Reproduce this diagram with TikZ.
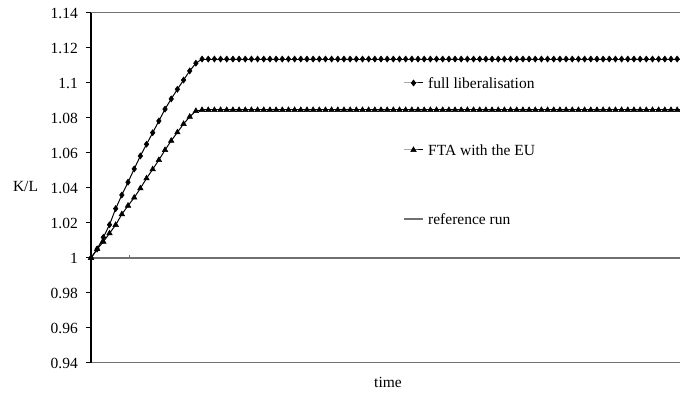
\documentclass[tikz,border=0pt]{standalone}
\usepackage{fontspec}
\setmainfont{Liberation Serif}
\usetikzlibrary{plotmarks}
\definecolor{refgray}{RGB}{112,112,112}
\tikzset{
  series/.style={black, line width=1pt},
  fullmark/.style={mark=diamond*, mark size=3pt, mark options={line width=0.6pt}},
  ftamark/.style={mark=triangle*, mark size=3.2pt, mark options={line width=0.5pt}},
  refline/.style={refgray, line width=1.2pt},
  framegray/.style={refgray, line width=1pt},
  chartfont/.style={font=\fontsize{15.5}{18}\selectfont},
  ticklabel/.style={chartfont, anchor=east, inner sep=0pt},
  legendtext/.style={chartfont, anchor=west, inner sep=0pt},
}

\begin{document}
\begin{tikzpicture}[x=1pt, y=1pt]
  \useasboundingbox (0,0) rectangle (680,399);
  % Plot frame
  \draw[framegray] (91,386) -- (680,386);
  \draw[framegray] (91,36) -- (680,36);
  \foreach \lab [count=\k from 0] in {0.94,0.96,0.98,1,1.02,1.04,1.06,1.08,1.1,1.12,1.14} {
    \draw[black, line width=1pt] (86,36+35*\k) -- (91,36+35*\k);
    \node[ticklabel] (ylab\k) at (78,36+35*\k) {\lab};
  }
  \node[chartfont] (ytitle) at (25.5,213) {K/L};
  \node[chartfont] (xtitle) at (388,17) {time};

  % Series (period, K/L - 1)
  \begin{scope}[shift={(91pt,141pt)}, x=6.17pt, y=1750pt]
    \draw[refline] (0,0) -- (95.5,0);
    \draw[refgray, line width=0.8pt] (6.3,0) -- (6.3,0.0015);
    \draw[series] plot[ftamark] coordinates {(0,0) (1,.0051) (2,.0093) (3,.0141)
      (4,.0189) (5,.0250) (6,.0299) (7,.0345) (8,.0398) (9,.0455) (10,.0507)
      (11,.0560) (12,.0617) (13,.0670) (14,.0718) (15,.0766) (16,.0807)
      (17,.0840) (18,.0846)};
    \draw[series] (18,.0846) -- (95.5,.0846);
    \draw[series] plot[ftamark, only marks, samples at={19,...,95}] (\x,.0846);
    \draw[series] plot[fullmark] coordinates {(0,0) (1,.0051) (2,.0118) (3,.0190)
      (4,.0282) (5,.0360) (6,.0433) (7,.0509) (8,.0583) (9,.0650) (10,.0716)
      (11,.0783) (12,.0851) (13,.0909) (14,.0964) (15,.1017) (16,.1069)
      (17,.1113) (18,.1137)};
    \draw[series] (18,.1137) -- (95.5,.1137);
    \draw[series] plot[fullmark, only marks, samples at={19,...,95}] (\x,.1137);
  \end{scope}
  \draw[black, line width=1.3pt] (91,36) -- (91,386);

  % Legend
  \node[legendtext] (fulltxt) at (428,316) {full liberalisation};
  \node[legendtext] (ftatxt) at (428,249) {FTA with the EU};
  \node[legendtext] (reftxt) at (428,180) {reference run};
  \coordinate (fullkey) at (404,316);
  \coordinate (ftakey) at (404,249);
  \coordinate (refkey) at (404,180);
  \draw[series] plot[fullmark, mark indices={2}] coordinates {(fullkey) (413.5,316) (423,316)};
  \draw[series] plot[ftamark, mark indices={2}] coordinates {(ftakey) (413.5,249) (423,249)};
  \draw[refline] (refkey) -- ++(19,0);
\end{tikzpicture}
\end{document}
